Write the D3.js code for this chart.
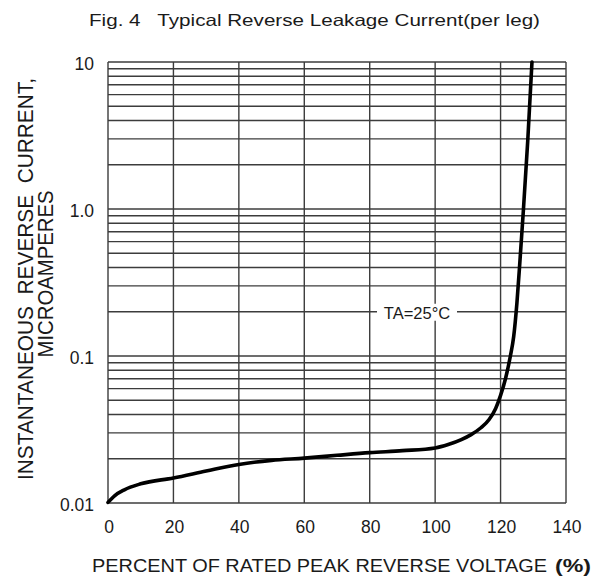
<!DOCTYPE html>
<html>
<head>
<meta charset="utf-8">
<script src="https://cdn.jsdelivr.net/npm/d3@7"></script>
<style>
  html, body { margin: 0; padding: 0; background: #fff; }
  svg text { font-family: Arial, "Liberation Sans", sans-serif; fill: #1a1a1a; }
</style>
</head>
<body>
<svg id="chart" width="606" height="582"></svg>
<script>
// ---- data ----
const voltagePct = [0, 2, 5, 10, 20, 30, 40, 50, 60, 70, 80, 90, 100, 104, 108, 111, 114, 116.5, 118.5, 120, 121.5, 123, 124, 125, 126, 127, 128.3, 129.6];
const leakageUA  = [0.0101, 0.0112, 0.0123, 0.0135, 0.0148, 0.0165, 0.0183, 0.0195, 0.0202, 0.0211, 0.0220, 0.0227, 0.0237, 0.0250, 0.0270, 0.0292, 0.0325, 0.0370, 0.0440, 0.0540, 0.0700, 0.100, 0.135, 0.23, 0.47, 1.0, 2.9, 10];
const xTickValues = [0, 20, 40, 60, 80, 100, 120, 140];
const yTickValues = [0.01, 0.1, 1, 10];
const yTickLabels = ["0.01", "0.1", "1.0", "10"];
const titleText = "Fig. 4   Typical Reverse Leakage Current(per leg)";
const yTitleLines = ["INSTANTANEOUS  REVERSE  CURRENT,", "MICROAMPERES"];
const xTitleText = "PERCENT OF RATED PEAK REVERSE VOLTAGE";
const xTitleUnit = "(%)";
const curveLabel = "TA=25°C";

// ---- layout ----
const L = 108, R = 566, T = 62, B = 503;
const svg = d3.select("#chart");
const x = d3.scaleLinear().domain([0, 140]).range([L, R]);
const y = d3.scaleLog().domain([0.01, 10]).range([B, T]);

const gridColor = "#3c3c3c";

// horizontal log grid lines
const hLines = [];
[0.01, 0.1, 1].forEach(d => { for (let m = 1; m <= 9; m++) hLines.push(+(d * m).toPrecision(3)); });
hLines.push(10);

const grid = svg.append("g");
grid.selectAll("line.h").data(hLines).join("line")
  .attr("x1", L).attr("x2", R)
  .attr("y1", d => y(d)).attr("y2", d => y(d))
  .attr("stroke", gridColor).attr("stroke-width", 1.4);

grid.selectAll("line.v").data(xTickValues).join("line")
  .attr("x1", d => x(d)).attr("x2", d => x(d))
  .attr("y1", T).attr("y2", B)
  .attr("stroke", gridColor).attr("stroke-width", 1.4);

// curve label with white background
const ly = y(0.2);
svg.append("rect").attr("x", 377).attr("y", ly - 8).attr("width", 80).attr("height", 17).attr("fill", "#fff");
svg.append("text").attr("x", 417).attr("y", ly + 7).attr("text-anchor", "middle")
  .attr("font-size", 16.5).attr("fill", "#333").text(curveLabel);

// curve
const line = d3.line().x((d, i) => x(voltagePct[i])).y(d => y(d)).curve(d3.curveMonotoneX);
svg.append("path").datum(leakageUA).attr("d", line)
  .attr("fill", "none").attr("stroke", "#000").attr("stroke-width", 3.6)
  .attr("stroke-linejoin", "round").attr("stroke-linecap", "round");

// x tick labels
svg.append("g").selectAll("text").data(xTickValues).join("text")
  .attr("x", d => x(d) + 1).attr("y", 533)
  .attr("text-anchor", "middle").attr("font-size", 17.5)
  .text(d => d);

// y tick labels
svg.append("g").selectAll("text").data(yTickValues).join("text")
  .attr("x", 94).attr("y", d => y(d) + 8)
  .attr("text-anchor", "end").attr("font-size", 17.5)
  .text((d, i) => yTickLabels[i]);

// title
svg.append("text").attr("x", 89).attr("y", 26)
  .attr("font-size", 16.5).attr("fill", "#2a2a2a")
  .style("white-space", "pre")
  .attr("textLength", 451).attr("lengthAdjust", "spacingAndGlyphs")
  .text(titleText);

// y title (rotated, two lines)
svg.append("text").attr("transform", "translate(33,279) rotate(-90)")
  .attr("text-anchor", "middle").attr("font-size", 22)
  .style("white-space", "pre")
  .attr("textLength", 402).attr("lengthAdjust", "spacingAndGlyphs")
  .text(yTitleLines[0]);
svg.append("text").attr("transform", "translate(53,274) rotate(-90)")
  .attr("text-anchor", "middle").attr("font-size", 22)
  .attr("textLength", 167).attr("lengthAdjust", "spacingAndGlyphs")
  .text(yTitleLines[1]);

// x title
svg.append("text").attr("x", 92).attr("y", 572)
  .attr("font-size", 18)
  .attr("textLength", 455).attr("lengthAdjust", "spacingAndGlyphs")
  .text(xTitleText);
svg.append("text").attr("x", 555).attr("y", 572)
  .attr("font-size", 18).attr("font-weight", "bold")
  .attr("textLength", 36).attr("lengthAdjust", "spacingAndGlyphs")
  .text(xTitleUnit);
</script>
</body>
</html>
